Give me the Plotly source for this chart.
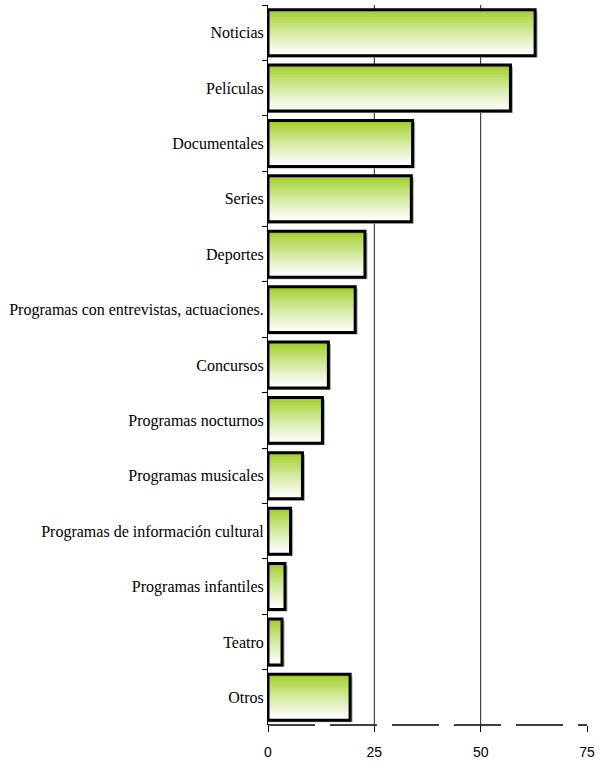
import plotly.graph_objects as go

categories = ["Noticias", "Películas", "Documentales", "Series", "Deportes",
              "Programas con entrevistas, actuaciones.", "Concursos",
              "Programas nocturnos", "Programas musicales",
              "Programas de información cultural", "Programas infantiles",
              "Teatro", "Otros"]
values = [62.8, 57.0, 34.0, 33.7, 22.8, 20.5, 14.2, 12.8, 8.1, 5.3, 4.0, 3.3, 19.3]
x_ticks = [0, 25, 50, 75]

BAR_W = 0.83
N = 30
top = (154, 204, 26)
bot = (250, 252, 246)

fig = go.Figure()

# shadow
fig.add_trace(go.Bar(y=categories, x=[v + 0.6 for v in values], orientation="h",
                     width=BAR_W, offset=-BAR_W / 2 + 0.035,
                     marker=dict(color="#b0b0b0", line=dict(width=0)),
                     hoverinfo="skip", showlegend=False))

h = BAR_W / N
for i in range(N):
    t = i / (N - 1)
    t = min(1.0, t ** 0.8 * 1.05)
    c = tuple(int(round(top[k] + (bot[k] - top[k]) * t)) for k in range(3))
    fig.add_trace(go.Bar(y=categories, x=values, orientation="h",
                         width=h * 1.02, offset=-BAR_W / 2 + i * h,
                         marker=dict(color="rgb(%d,%d,%d)" % c, line=dict(width=0)),
                         hoverinfo="skip", showlegend=False))

fig.add_trace(go.Bar(y=categories, x=values, orientation="h",
                     width=BAR_W, offset=-BAR_W / 2,
                     marker=dict(color="rgba(0,0,0,0)", line=dict(color="black", width=3)),
                     hoverinfo="skip", showlegend=False))

for xv in x_ticks[1:3]:
    fig.add_vline(x=xv, line=dict(color="#222222", width=1), layer="below")

# dashed bottom axis line
fig.add_shape(type="line", xref="paper", yref="paper", x0=0, x1=1, y0=0, y1=0,
              line=dict(color="black", width=1.5, dash="47px,15px"))

fig.update_layout(
    width=600, height=765,
    margin=dict(l=268, r=9, t=5, b=36),
    barmode="overlay",
    plot_bgcolor="white", paper_bgcolor="white",
    showlegend=False,
    xaxis=dict(range=[0, 75], tickvals=x_ticks, showgrid=False, zeroline=False,
               showline=False, ticks="outside", ticklen=6, tickcolor="black",
               ticklabelstandoff=8,
               tickfont=dict(family="Liberation Sans", size=14, color="black")),
    yaxis=dict(categoryorder="array", categoryarray=categories, autorange="reversed",
               showgrid=False, showline=True, linecolor="black", linewidth=1,
               ticks="outside", tickson="boundaries", ticklen=5, tickcolor="black",
               tickfont=dict(family="Liberation Serif", size=16, color="black")),
)

fig.write_html("out.html", config={"displayModeBar": False},
               post_script="document.body.style.margin='0px';")
